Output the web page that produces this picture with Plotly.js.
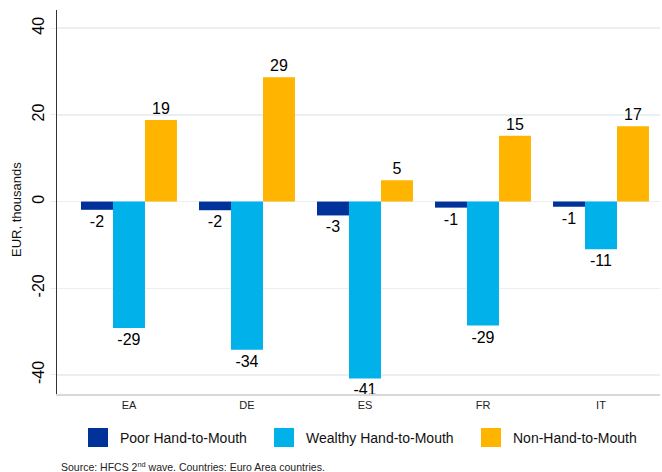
<!DOCTYPE html>
<html><head><meta charset="utf-8">
<script src="https://cdn.plot.ly/plotly-3.0.1.min.js"></script>
<style>body{margin:0;background:#fff}#chart{width:662px;height:472px}</style>
</head><body><div id="chart"></div>
<script>
var categories = ["EA", "DE", "ES", "FR", "IT"];
var poorHtM = [-1.9, -2.0, -3.2, -1.4, -1.2];
var wealthyHtM = [-29.2, -34.2, -40.8, -28.6, -11.0];
var nonHtM = [18.8, 28.7, 4.9, 15.2, 17.4];
var seriesNames = ["Poor Hand-to-Mouth", "Wealthy Hand-to-Mouth", "Non-Hand-to-Mouth"];
var colors = ["#003299", "#00b1ea", "#ffb400"];
var labelsShown = [["-2","-2","-3","-1","-1"], ["-29","-34","-41","-29","-11"], ["19","29","5","15","17"]];

var FONT = "Liberation Sans, Arial, sans-serif";
function mk(vals, i) {
  return {
    type: "bar", x: categories, y: vals, name: seriesNames[i],
    marker: {color: colors[i]},
    text: labelsShown[i],
    textposition: "outside", cliponaxis: false,
    textfont: {family: FONT, size: 16, color: "#000"},
    hoverinfo: "none", showlegend: false
  };
}
var data = [mk(poorHtM,0), mk(wealthyHtM,1), mk(nonHtM,2)];

// plot area in pixels: x 57..660, y 10..394
function px2x(p){ return (p - 57) / 603; }
function py2y(p){ return (394 - p) / 384; }

var legendX = [88, 274, 481];
var shapes = [], annotations = [];
for (var i = 0; i < 3; i++) {
  shapes.push({type: "rect", xref: "paper", yref: "paper",
    x0: px2x(legendX[i]), x1: px2x(legendX[i] + 20), y0: py2y(447), y1: py2y(428),
    fillcolor: colors[i], line: {width: 0}});
  annotations.push({text: seriesNames[i], xref: "paper", yref: "paper",
    x: px2x(legendX[i] + 30), y: py2y(438), xanchor: "left", yanchor: "middle",
    showarrow: false, font: {family: FONT, size: 14, color: "#111"}});
}
annotations.push({text: "EUR, thousands", xref: "paper", yref: "paper", textangle: -90,
  x: px2x(17), y: py2y(210), xanchor: "center", yanchor: "middle", showarrow: false,
  font: {family: FONT, size: 13, color: "#111"}});
annotations.push({text: "Source: HFCS 2<sup>nd</sup> wave. Countries: Euro Area countries.",
  xref: "paper", yref: "paper", x: px2x(59), y: py2y(466), xanchor: "left", yanchor: "middle",
  showarrow: false, font: {family: FONT, size: 10.5, color: "#222"}});

var layout = {
  width: 662, height: 472,
  margin: {l: 57, r: 2, t: 10, b: 78},
  paper_bgcolor: "#fff", plot_bgcolor: "#fff",
  barmode: "group", bargap: 0.187, bargroupgap: 0,
  font: {family: FONT, color: "#000"},
  showlegend: false,
  xaxis: {range: [-0.61, 4.5], showgrid: false, showline: true, linecolor: "#d9d9d9", linewidth: 1.5,
          ticks: "", tickfont: {size: 11, color: "#222"}, automargin: false},
  yaxis: {range: [-44.4, 44.2], tickvals: [-40, -20, 0, 20, 40], ticktext: ["-40","-20","0","20","40"],
          tickangle: -90, tickfont: {size: 16}, gridcolor: "#e9eff3", gridwidth: 1.5,
          zeroline: false, showline: true, linecolor: "#333", linewidth: 1, ticks: "outside",
          ticklen: 6, tickcolor: "#e9eff3", automargin: false},
  shapes: shapes,
  annotations: annotations
};
Plotly.newPlot("chart", data, layout, {displayModeBar: false, staticPlot: true});
</script></body></html>
